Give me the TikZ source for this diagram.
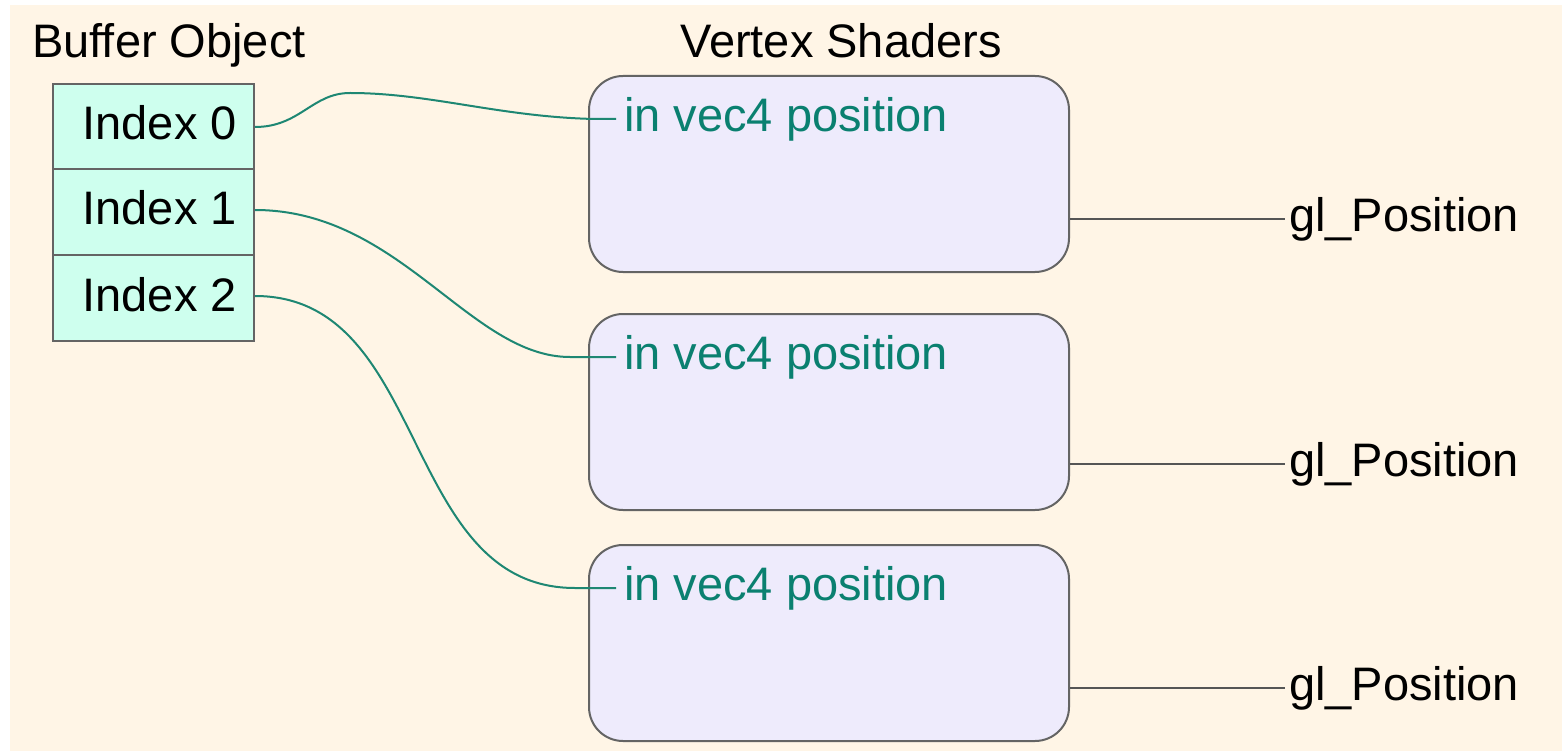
\documentclass[tikz,border=0pt]{standalone}
\usepackage{fontspec}
\setmainfont{Liberation Sans}
\definecolor{cream}{RGB}{255,245,230}
\definecolor{mint}{RGB}{206,255,238}
\definecolor{lav}{RGB}{238,235,252}
\definecolor{tealline}{RGB}{30,135,115}
\definecolor{tealtext}{RGB}{10,128,112}
\definecolor{boxgray}{RGB}{100,100,100}
\tikzset{
  big/.style={font=\fontsize{47}{56}\selectfont},
  title/.style={big, inner sep=0pt, anchor=base},
  cell/.style={draw=boxgray, line width=2pt, fill=mint, minimum width=201pt, minimum height=85.5pt, inner sep=0pt, anchor=north west},
  celltext/.style={big, inner sep=0pt, anchor=base east},
  shader/.style={draw=boxgray, line width=2pt, fill=lav, rounded corners=34pt, minimum width=480pt, minimum height=196pt, inner sep=0pt, anchor=north west},
  intext/.style={big, text=tealtext, inner ysep=0pt, inner xsep=8pt, anchor=west},
  outtext/.style={big, inner ysep=0pt, inner xsep=4pt, anchor=west},
  wire/.style={draw=tealline, line width=2pt},
  outwire/.style={draw=boxgray!85!black, line width=2.2pt}
}
\begin{document}
\begin{tikzpicture}[x=1pt,y=-1pt]
\useasboundingbox (0,0) rectangle (1562,751);
\fill[white] (0,0) rectangle (1562,751);
\fill[cream] (10,5) rectangle (1562,751);

\node[title] (tb) at (169,58) {Buffer Object};
\node[title] (tv) at (841,58) {Vertex Shaders};

% buffer cells
\node[cell] (c0) at (52,83) {};
\node[cell] (c1) at (52,168.5) {};
\node[cell] (c2) at (52,254) {};
\node[celltext] (t0) at (237,140) {Index 0};
\node[celltext] (t1) at (237,225) {Index 1};
\node[celltext] (t2) at (237,311) {Index 2};

% shader boxes
\node[shader] (s0) at (588,75) {};
\node[shader] (s1) at (588,313) {};
\node[shader] (s2) at (588,544) {};
\node[intext] (p0) at (616,119) {in vec4 position};
\node[intext] (p1) at (616,357) {in vec4 position};
\node[intext] (p2) at (616,588) {in vec4 position};

% outputs
\node[outtext] (g0) at (1285,219) {gl\_Position};
\node[outtext] (g1) at (1285,464) {gl\_Position};
\node[outtext] (g2) at (1285,688) {gl\_Position};

% wires
\draw[wire] (c0.east |- 0,127) .. controls (300,127) and (312,93) .. (350,93)
   .. controls (430,93) and (500,117) .. (595,119) -- (p0.west);
\draw[wire] (c1.east |- 0,210) .. controls (400,210) and (470,357) .. (570,357) -- (p1.west);
\draw[wire] (c2.east |- 0,296) .. controls (430,296) and (400,588) .. (575,588) -- (p2.west);

\draw[outwire] (s0.east |- g0.west) -- (g0.west);
\draw[outwire] (s1.east |- g1.west) -- (g1.west);
\draw[outwire] (s2.east |- g2.west) -- (g2.west);
\end{tikzpicture}
\end{document}
